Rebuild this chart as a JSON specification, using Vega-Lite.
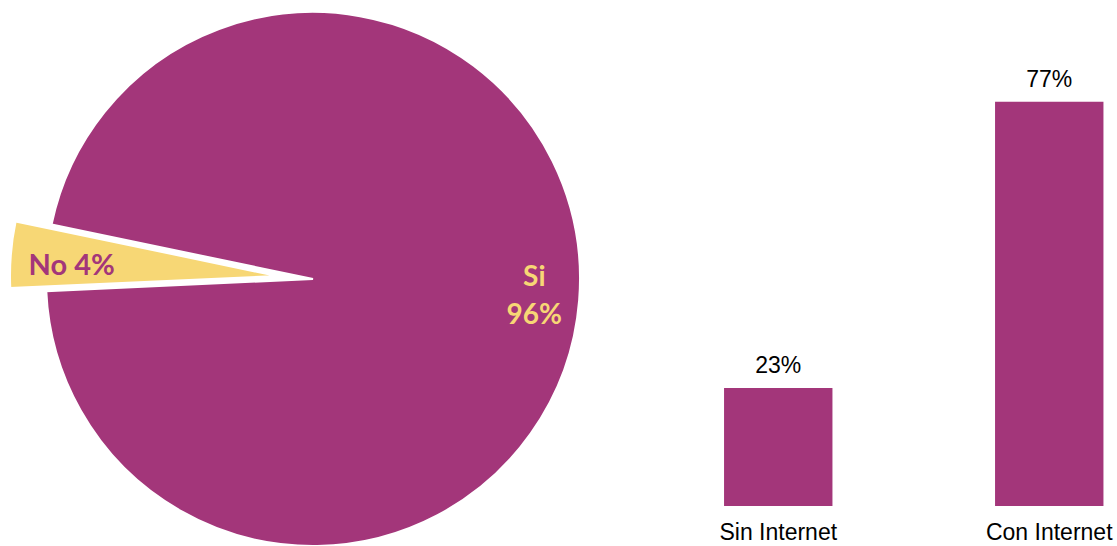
{
  "$schema": "https://vega.github.io/schema/vega-lite/v6.json",
  "padding": 0,
  "bounds": "flush",
  "spacing": 84.5,
  "config": {"view": {"stroke": null}},
  "hconcat": [
    {
      "width": 626,
      "height": 546,
      "data": {"values": [
        {"respuesta": "No", "valor": 4, "etiqueta": "No 4%"},
        {"respuesta": "Si", "valor": 96, "etiqueta": "Si\n96%"}
      ]},
      "encoding": {
        "theta": {"field": "valor", "type": "quantitative", "stack": true, "scale": {"range": [4.667, 10.950]}},
        "order": {"field": "respuesta", "type": "ordinal", "sort": "ascending"}
      },
      "layer": [
        {
          "mark": {"type": "arc", "outerRadius": 267, "stroke": "white", "strokeWidth": 2, "yOffset": 6},
          "encoding": {
            "color": {"field": "respuesta", "type": "nominal", "scale": {"domain": ["No", "Si"], "range": ["#F7D775", "#A3367A"]}, "legend": null},
            "opacity": {"condition": {"test": "datum.respuesta === 'Si'", "value": 1}, "value": 0}
          }
        },
        {
          "mark": {"type": "arc", "outerRadius": 267, "stroke": "white", "strokeWidth": 2, "xOffset": -36, "yOffset": 3},
          "encoding": {
            "color": {"field": "respuesta", "type": "nominal", "scale": {"domain": ["No", "Si"], "range": ["#F7D775", "#A3367A"]}, "legend": null},
            "opacity": {"condition": {"test": "datum.respuesta === 'No'", "value": 1}, "value": 0}
          }
        },
        {
          "mark": {"type": "text", "radius": 222, "font": "Lato", "fontWeight": "bold", "fontSize": 28, "lineBreak": "\n", "lineHeight": 38, "yOffset": 6, "dy": -19, "color": "#F7D775", "align": "center", "baseline": "middle"},
          "encoding": {
            "text": {"field": "etiqueta"},
            "opacity": {"condition": {"test": "datum.respuesta === 'Si'", "value": 1}, "value": 0}
          }
        },
        {
          "mark": {"type": "text", "radius": 206, "font": "Lato", "fontWeight": "bold", "fontSize": 29, "xOffset": -36, "yOffset": 3, "dy": 7, "color": "#A3367A", "align": "center", "baseline": "middle"},
          "encoding": {
            "text": {"field": "etiqueta"},
            "opacity": {"condition": {"test": "datum.respuesta === 'No'", "value": 1}, "value": 0}
          }
        }
      ]
    },
    {
      "width": 406.5,
      "height": 506,
      "data": {"values": [
        {"categoria": "Sin Internet", "porcentaje": 0.226},
        {"categoria": "Con Internet", "porcentaje": 0.774}
      ]},
      "encoding": {
        "x": {"field": "categoria", "type": "nominal", "sort": null,
          "scale": {"paddingInner": 0.6, "paddingOuter": 0.05},
          "axis": {"title": null, "labelAngle": 0, "ticks": false, "domain": false, "labelFont": "Liberation Sans", "labelFontSize": 23, "labelColor": "black", "labelPadding": 15}},
        "y": {"field": "porcentaje", "type": "quantitative", "scale": {"domain": [0, 0.969]}, "axis": null}
      },
      "layer": [
        {"mark": {"type": "bar", "color": "#A3367A"}},
        {
          "mark": {"type": "text", "baseline": "alphabetic", "dy": -15, "font": "Liberation Sans", "fontSize": 23, "color": "black"},
          "encoding": {"text": {"field": "porcentaje", "type": "quantitative", "format": ".0%"}}
        }
      ]
    }
  ]
}
